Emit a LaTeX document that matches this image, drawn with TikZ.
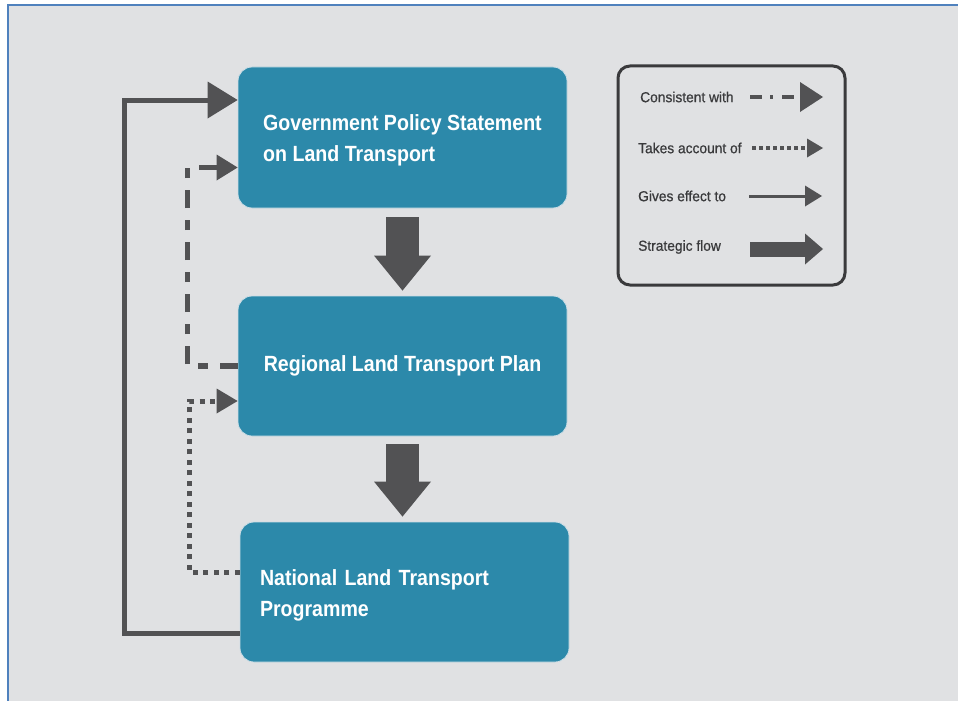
\documentclass[tikz,border=0pt]{standalone}
\usepackage{fontspec}
\setmainfont{Liberation Sans}
\newfontfamily\boxfont[UprightFont={* Bold}, FakeStretch=0.89]{Liberation Sans}
\newfontfamily\legfont[FakeBold=0.7, FakeStretch=0.95]{Liberation Sans}
\usetikzlibrary{arrows.meta,calc}
\definecolor{bgc}{RGB}{224,225,227}
\definecolor{framec}{RGB}{79,129,189}
\definecolor{boxc}{RGB}{44,137,170}
\definecolor{boxedge}{RGB}{205,222,230}
\definecolor{arrc}{RGB}{82,82,84}
\definecolor{txtc}{RGB}{58,58,60}
\tikzset{
  box/.style={rectangle, rounded corners=14pt, fill=boxc, draw=boxedge, line width=0.8pt,
    minimum width=329pt, minimum height=140pt, inner sep=0pt, text=white,
    font=\boxfont\fontsize{22}{31}\selectfont},
  strategic/.style={draw=arrc, line width=33pt, -{Triangle[width=57pt,length=35pt,line width=0pt]}},
  effect/.style={draw=arrc, line width=5pt, -{Triangle[width=37pt,length=30pt,line width=0pt]}},
  consistent/.style={draw=arrc, line width=5.5pt, dash pattern=on 18pt off 12pt on 10pt off 12pt,
    -{Triangle[width=26pt,length=21pt,line width=0pt]}},
  account/.style={draw=arrc, line width=5pt, dash pattern=on 5pt off 5.5pt,
    -{Triangle[width=25pt,length=21pt,line width=0pt]}},
  legtext/.style={anchor=west, inner sep=0pt, text=txtc, font=\legfont\fontsize{14.5}{17}\selectfont},
}
\begin{document}
\begin{tikzpicture}[x=1pt,y=-1pt]
\useasboundingbox (0,0) rectangle (958,701);
\fill[white] (0,0) rectangle (958,701);
\fill[bgc] (8,5) rectangle (958,701);
\draw[framec, line width=2.5pt] (8,701) -- (8,5) -- (958,5);

% boxes
\node[box, minimum height=141pt, align=left] (gps) at (402.5,137.5)
  {\rule{0pt}{21pt}Government Policy Statement\\on Land Transport};
\node[box, align=center] (rltp) at (402.5,366)
  {\raisebox{4pt}{Regional Land Transport Plan}};
\node[box, text width=289pt, align=left] (nltp) at (404.5,592)
  {\rule{0pt}{23.5pt}National Land Transport\\Programme};

% strategic flow
\draw[strategic] ($(gps.south)+(0,9)$) -- ($(rltp.north)+(0,-5)$);
\draw[strategic] ($(rltp.south)+(0,8)$) -- ($(rltp.south |- nltp.north)+(0,-5)$);

% gives effect to
\draw[effect] ($(nltp.west)+(0,41)$) -- ++(-115,0) |- ($(gps.west)+(0,-37.5)$);
% consistent with
\draw[consistent] (rltp.west) -- ++(-50,0) |- ($(gps.west)+(0,30)$);
% takes account of
\draw[account] ($(nltp.west)+(0,-20)$) -- ++(-50,0) |- ($(rltp.west)+(0,35)$);

% legend
\node[draw=txtc, line width=3pt, rounded corners=12pt, minimum width=227pt, minimum height=219pt,
  inner sep=0pt] (legend) at (731.5,175.5) {};
\node[legtext] (l1) at (640,97) {Consistent with};
\node[legtext] (l2) at (638,148) {Takes account of};
\node[legtext] (l3) at (638,196) {Gives effect to};
\node[legtext] (l4) at (638,247) {Strategic flow};
\coordinate (a1s) at (750,97);  \coordinate (a1e) at (823,97);
\coordinate (a2s) at (752,148); \coordinate (a2e) at (823,148);
\coordinate (a3s) at (749,196); \coordinate (a3e) at (822,196);
\coordinate (a4s) at (750,249); \coordinate (a4e) at (823,249);
\draw[draw=arrc, line width=4.5pt, dash pattern=on 12pt off 8pt on 3pt off 9pt,
  -{Triangle[width=30pt,length=23pt,line width=0pt]}] (a1s) -- (a1e);
\draw[draw=arrc, line width=4pt, dash pattern=on 4pt off 3pt,
  -{Triangle[width=19pt,length=16pt,line width=0pt]}] (a2s) -- (a2e);
\draw[draw=arrc, line width=3pt,
  -{Triangle[width=21pt,length=17pt,line width=0pt]}] (a3s) -- (a3e);
\draw[draw=arrc, line width=15pt,
  -{Triangle[width=31pt,length=18pt,line width=0pt]}] (a4s) -- (a4e);
\end{tikzpicture}
\end{document}
